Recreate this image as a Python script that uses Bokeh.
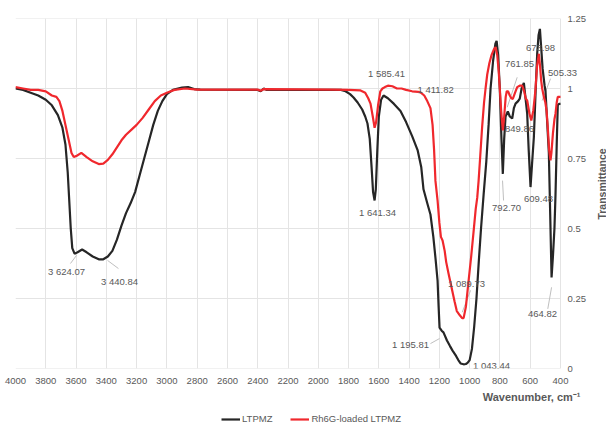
from bokeh.plotting import figure
from bokeh.layouts import column, row
from bokeh.models import (Range1d, FixedTicker, LabelSet, Label, ColumnDataSource,
                          Legend, LegendItem, Title)
from bokeh.core.properties import value
from bokeh.embed import file_html
from bokeh.resources import INLINE
import math

# ---------------- data ----------------
wn_ltpmz = [4000, 3950, 3900, 3850, 3800, 3760, 3720, 3690, 3670, 3655, 3645, 3635, 3625,
            3610, 3590, 3560, 3530, 3490, 3450, 3420, 3390, 3360, 3330, 3300, 3270, 3240,
            3210, 3180, 3150, 3120, 3090, 3060, 3030, 3000, 2960, 2900, 2860, 2820, 2780,
            2400, 2380, 2360, 2340, 1900, 1850, 1820, 1790, 1767, 1740, 1710, 1690, 1675,
            1660, 1648, 1638, 1628, 1620, 1610, 1600, 1585, 1569, 1540, 1500, 1457, 1420,
            1380, 1344, 1320, 1305, 1280, 1259, 1240, 1225, 1212, 1205, 1199, 1185, 1173,
            1150, 1130, 1113, 1090, 1075, 1060, 1040, 1025, 1014, 1000, 985, 970, 955, 940,
            925, 908, 890, 875, 862, 845, 830, 822, 812, 801, 790, 781, 772, 763, 748, 735,
            719, 708, 697, 680, 669, 657, 642, 630, 620, 610, 598, 588, 576, 565, 554, 545,
            536, 528, 518, 505, 499, 490, 477, 468, 459, 450, 440, 433, 425, 418, 410, 400]
t_ltpmz = [1.0, 0.995, 0.985, 0.975, 0.96, 0.94, 0.905, 0.86, 0.80, 0.70, 0.60, 0.50, 0.43,
           0.41, 0.415, 0.425, 0.415, 0.40, 0.39, 0.39, 0.40, 0.42, 0.46, 0.51, 0.555, 0.59,
           0.63, 0.69, 0.75, 0.81, 0.87, 0.92, 0.955, 0.98, 0.995, 1.003, 1.005, 0.998, 0.996,
           0.995, 0.99, 1.0, 0.995, 0.995, 0.995, 0.99, 0.98, 0.968, 0.95, 0.925, 0.90, 0.875,
           0.82, 0.72, 0.63, 0.60, 0.64, 0.78, 0.90, 0.96, 0.975, 0.965, 0.945, 0.92, 0.88,
           0.83, 0.78, 0.72, 0.64, 0.59, 0.55, 0.47, 0.39, 0.314, 0.22, 0.146, 0.135, 0.129,
           0.10, 0.08, 0.064, 0.045, 0.03, 0.018, 0.015, 0.016, 0.02, 0.03, 0.07, 0.15, 0.25, 0.38,
           0.50, 0.62, 0.74, 0.87, 1.0, 1.10, 1.16, 1.17, 1.12, 1.0, 0.82, 0.695, 0.82, 0.90, 0.918, 0.90,
           0.893, 0.93, 0.946, 0.955, 0.964, 1.0, 1.02, 0.96, 0.91, 0.78, 0.648, 0.73, 0.826, 0.98, 1.124, 1.19,
           1.213, 1.15, 1.07, 1.01, 0.99, 0.90, 0.77, 0.55, 0.325, 0.40, 0.50, 0.62, 0.80, 0.94, 0.945, 0.945]

wn_rh6g = [4000, 3950, 3900, 3850, 3800, 3760, 3730, 3710, 3690, 3670, 3650, 3630, 3615,
           3595, 3565, 3530, 3490, 3450, 3420, 3390, 3360, 3330, 3300, 3270, 3230, 3200,
           3160, 3120, 3080, 3040, 3000, 2950, 2880, 2800, 2400, 2380, 2360, 1900, 1800,
           1721, 1690, 1670, 1655, 1640, 1628, 1618, 1605, 1590, 1576, 1560, 1540, 1510,
           1480, 1450, 1420, 1380, 1340, 1325, 1300, 1280, 1259, 1245, 1235, 1226, 1212,
           1200, 1190, 1179, 1165, 1155, 1140, 1120, 1100, 1085, 1065, 1050, 1040, 1025,
           1007, 990, 974, 960, 950, 941, 930, 918, 905, 895, 884, 870, 855, 840, 829, 818,
           808, 801, 792, 781, 772, 762, 755, 746, 735, 725, 715, 700, 686, 670, 653, 640,
           630, 620, 605, 593, 580, 570, 565, 555, 543, 535, 528, 521, 510, 500, 492, 484,
           475, 466, 460, 450, 440, 433, 425, 418, 400]
t_rh6g = [1.005, 1.0, 0.995, 0.995, 0.99, 0.975, 0.97, 0.955, 0.92, 0.87, 0.82, 0.77, 0.755,
          0.76, 0.77, 0.755, 0.74, 0.73, 0.732, 0.745, 0.765, 0.79, 0.815, 0.835, 0.855, 0.87,
          0.895, 0.925, 0.955, 0.975, 0.985, 0.995, 1.0, 0.996, 0.996, 0.992, 0.998, 0.996, 0.995,
          0.993, 0.985, 0.965, 0.946, 0.90, 0.86, 0.88, 0.94, 0.99, 1.0, 1.005, 1.01, 1.008,
          1.0, 1.0, 0.995, 0.99, 0.988, 0.986, 0.975, 0.955, 0.93, 0.87, 0.78, 0.67, 0.60,
          0.52, 0.47, 0.457, 0.42, 0.38, 0.34, 0.29, 0.24, 0.205, 0.19, 0.18, 0.18, 0.22,
          0.314, 0.40, 0.49, 0.57, 0.61, 0.67, 0.76, 0.86, 0.95, 1.0, 1.05, 1.09, 1.12, 1.14, 1.148, 1.12,
          1.06, 1.0, 0.92, 0.85, 0.90, 0.97, 0.99, 0.99, 0.975, 0.965, 0.963, 0.985, 1.005, 1.01, 1.01, 0.99,
          0.965, 0.957, 0.91, 0.886, 0.92, 0.97, 1.0, 1.08, 1.124, 1.08, 1.03, 1.0, 0.97, 0.95, 0.92, 0.86,
          0.78, 0.743, 0.77, 0.84, 0.89, 0.91, 0.95, 0.97, 0.97]

x_ticks = list(range(400, 4001, 200))
y_ticks = [0, 0.25, 0.5, 0.75, 1, 1.25]
y_tick_labels = ["0", "0.25", "0.5", "0.75", "1", "1.25"]

peak_text = ["3 624.07", "3 440.84", "1 641.34", "1 585.41", "1 411.82", "1 089.73",
             "1 195.81", "1 043.44", "792.70", "761.85", "849.86", "673.98", "609.48",
             "505.33", "464.82"]
peak_lab_x = [3663, 3313, 1609, 1549, 1225, 1021, 1391, 856, 756, 671, 671, 532, 545, 386, 519]
peak_lab_y = [0.346, 0.311, 0.557, 1.054, 0.996, 0.304, 0.086, 0.011, 0.575, 1.089, 0.857,
              1.146, 0.607, 1.057, 0.196]

lead_x0 = [3637, 3392, 994, 1259, 776, 686, 466, 459]
lead_y0 = [0.375, 0.386, 0.279, 0.089, 0.600, 1.040, 1.035, 0.290]
lead_x1 = [3597, 3320, 1049, 1199, 783, 752, 521, 484]
lead_y1 = [0.404, 0.357, 0.201, 0.107, 0.671, 0.933, 0.957, 0.213]

series_names = ["LTPMZ", "Rh6G-loaded LTPMZ"]
series_colors = ["#262626", "#f0282d"]
x_title = "Wavenumber, cm\u207b\u00b9"
y_title = "Transmittance"

GRAY = "#595959"
FONT = "Liberation Sans"

# x scale: 4000..400 spans 545 px; the frame runs on to x = 582 px
x_end = 4000 - (4000 - 400) * 567 / 545

# ---------------- main figure ----------------
p = figure(width=592, height=406, x_range=Range1d(4000, x_end), y_range=Range1d(0, 1.25),
           y_axis_location="right", output_backend="svg", toolbar_location=None,
           min_border_left=15, min_border_right=10, min_border_top=18, min_border_bottom=38)
p.outline_line_color = None
p.background_fill_color = "white"

p.xaxis.ticker = FixedTicker(ticks=x_ticks)
p.yaxis.ticker = FixedTicker(ticks=y_ticks)
p.xgrid.ticker = FixedTicker(ticks=x_ticks)
p.ygrid.visible = False
p.xgrid.grid_line_color = "#e4e4e4"
p.yaxis.major_label_overrides = dict(zip(y_ticks, y_tick_labels))

for ax in (p.xaxis[0], p.yaxis[0]):
    ax.axis_line_color = None
    ax.major_tick_line_color = None
    ax.minor_tick_line_color = None
    ax.major_tick_out = 0
    ax.major_tick_in = 0
    ax.minor_tick_out = 0
    ax.major_label_text_color = GRAY
    ax.major_label_text_font = FONT
    ax.major_label_text_font_size = "9.5px"
p.xaxis.major_label_standoff = 9
p.yaxis.major_label_standoff = -15

# horizontal grid lines, limited to the wavenumber scale
p.segment(x0=[x_ticks[-1]] * len(y_ticks), x1=[x_ticks[0]] * len(y_ticks), y0=y_ticks, y1=y_ticks,
          line_color="#e4e4e4", line_width=1, level="underlay")

# leader lines
p.segment(x0=lead_x0, y0=lead_y0, x1=lead_x1, y1=lead_y1, line_color="#bfbfbf", line_width=1)

p.line(wn_ltpmz, t_ltpmz, line_color=series_colors[0], line_width=2.2)
p.line(wn_rh6g, t_rh6g, line_color=series_colors[1], line_width=2.2)

src = ColumnDataSource(dict(x=peak_lab_x, y=peak_lab_y, t=peak_text))
p.add_layout(LabelSet(x="x", y="y", text="t", source=src, text_align="center",
                      text_baseline="middle", text_color=GRAY, text_font=value(FONT),
                      text_font_size="9.5px"))

t = Title(text=x_title, align="right", offset=2, text_color=GRAY, text_font=FONT,
          text_font_size="11px", text_font_style="bold", standoff=4)
p.add_layout(t, "below")

# ---------------- y-axis title strip (right) ----------------
pt = figure(width=14, height=406, x_range=Range1d(0, 14), y_range=Range1d(0, 406),
            x_axis_location=None, y_axis_location=None, output_backend="svg",
            toolbar_location=None, min_border=0)
pt.outline_line_color = None
for g in pt.grid:
    g.visible = False
pt.add_layout(Label(x=9, y=214, text=y_title, angle=math.pi / 2, text_align="center",
                    text_baseline="middle", text_color=GRAY, text_font=FONT,
                    text_font_size="10.5px", text_font_style="bold"))

# ---------------- legend strip (bottom) ----------------
pl = figure(width=606, height=18, x_range=Range1d(0, 1), y_range=Range1d(0, 1),
            x_axis_location=None, y_axis_location=None, output_backend="svg",
            toolbar_location=None, min_border=0)
pl.outline_line_color = None
for g in pl.grid:
    g.visible = False
# legend-sample renderers, kept outside the strip's visible range
lr1 = pl.line(x=[-2, -1], y=[-2, -1], line_color=series_colors[0], line_width=2.2)
lr2 = pl.line(x=[-2, -1], y=[-2, -1], line_color=series_colors[1], line_width=2.2)
legend = Legend(items=[LegendItem(label=series_names[0], renderers=[lr1]),
                       LegendItem(label=series_names[1], renderers=[lr2])],
                orientation="horizontal", location=(221, 0))
legend.label_text_font = FONT
legend.label_text_font_size = "9.5px"
legend.label_text_color = GRAY
legend.glyph_width = 19
legend.glyph_height = 10
legend.label_height = 10
legend.label_standoff = 2
legend.spacing = 18
legend.padding = 0
legend.margin = 0
legend.border_line_color = None
legend.background_fill_alpha = 0
pl.add_layout(legend)

layout = column(row(p, pt, spacing=0), pl, spacing=0)
open("out.html", "w").write(file_html(layout, INLINE))
